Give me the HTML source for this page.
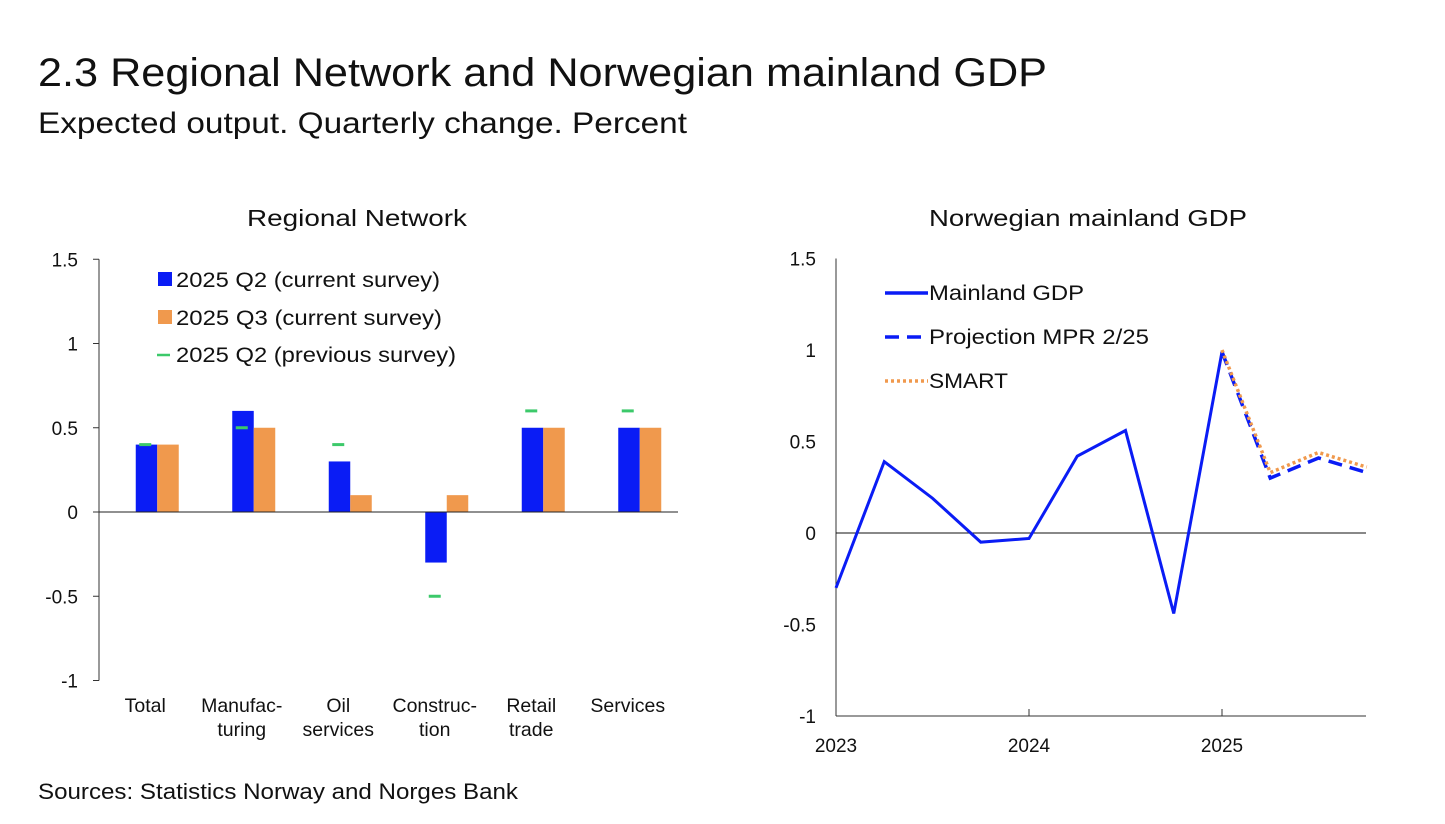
<!DOCTYPE html>
<html><head><meta charset="utf-8">
<style>
body{margin:0;background:#fff;font-family:"Liberation Sans",sans-serif;}
svg text{font-family:"Liberation Sans",sans-serif;fill:#111;}
</style></head>
<body>
<svg width="1445" height="819" xmlns="http://www.w3.org/2000/svg">
<text x="38" y="86" font-size="40" textLength="1009" lengthAdjust="spacingAndGlyphs">2.3 Regional Network and Norwegian mainland GDP</text>
<text x="38" y="133" font-size="30" fill="#222" textLength="649" lengthAdjust="spacingAndGlyphs">Expected output. Quarterly change. Percent</text>
<text x="247" y="226" font-size="23" textLength="220" lengthAdjust="spacingAndGlyphs">Regional Network</text>
<text x="929" y="226" font-size="23" textLength="318" lengthAdjust="spacingAndGlyphs">Norwegian mainland GDP</text>
<text x="38" y="799" font-size="22" textLength="480" lengthAdjust="spacingAndGlyphs">Sources: Statistics Norway and Norges Bank</text>
<g id="left"></g>
<g id="right"></g>
</svg>
<script>
const NS="http://www.w3.org/2000/svg";
function mk(p,t,a){const e=document.createElementNS(NS,t);for(const k in a)e.setAttribute(k,a[k]);p.appendChild(e);return e;}

// Left chart data
const categories=[["Total"],["Manufac-","turing"],["Oil","services"],["Construc-","tion"],["Retail","trade"],["Services"]];
const q2Current=[0.4,0.6,0.3,-0.3,0.5,0.5];
const q3Current=[0.4,0.5,0.1,0.1,0.5,0.5];
const q2Previous=[0.4,0.5,0.4,-0.5,0.6,0.6];
const leftTicks=[1.5,1,0.5,0,-0.5,-1];

const L=document.getElementById('left');
const lx0=99,lx1=678,ly=v=>512-v*168.5;
const band=96.5;
leftTicks.forEach(t=>{
  const tl=mk(L,'text',{x:78,y:ly(t)+7,'font-size':19,'text-anchor':'end'});tl.textContent=String(t);
  
  
  const tk=mk(L,'line',{x1:93,x2:99,y1:ly(t),y2:ly(t),stroke:'#333'});
  
  
});
const ax=mk(L,'line',{x1:lx0,x2:lx0,y1:ly(1.5),y2:ly(-1),stroke:'#333'});


categories.forEach((c,i)=>{
  const cx=lx0+band*(i+0.5)+10;
  const b1=mk(L,'rect',{x:cx-21.5,width:21.5,y:Math.min(ly(q2Current[i]),ly(0)),height:Math.abs(ly(q2Current[i])-ly(0)),fill:'#0a1cf5'});
  
  
  const b2=mk(L,'rect',{x:cx,width:21.5,y:Math.min(ly(q3Current[i]),ly(0)),height:Math.abs(ly(q3Current[i])-ly(0)),fill:'#f0994d'});
  
  
  const m=mk(L,'line',{x1:cx-18,x2:cx-6,y1:ly(q2Previous[i]),y2:ly(q2Previous[i]),stroke:'#3cc96a','stroke-width':3});
  
  
  c.forEach((s,j)=>{const t=mk(L,'text',{x:cx-12,y:712+j*24,'font-size':19.5,'text-anchor':'middle'});t.textContent=s;
    
    });
});
const zl=mk(L,'line',{x1:lx0,x2:lx1,y1:ly(0),y2:ly(0),stroke:'#222'});


[['#0a1cf5','2025 Q2 (current survey)',280,'box',264],['#f0994d','2025 Q3 (current survey)',318,'box',266],['#3cc96a','2025 Q2 (previous survey)',355,'dash',280]].forEach(l=>{
  let s;
  if(l[3]==='box'){s=mk(L,'rect',{x:158,y:l[2]-8,width:14,height:14,fill:l[0]});}
  else{s=mk(L,'line',{x1:157,x2:170,y1:l[2],y2:l[2],stroke:l[0],'stroke-width':2.5});}
  
  
  const t=mk(L,'text',{x:176,y:l[2]+7,'font-size':21,textLength:l[4],lengthAdjust:'spacingAndGlyphs'});t.textContent=l[1];
  
  
});

// Right chart data
const mainlandGdp=[-0.3,0.39,0.19,-0.05,-0.03,0.42,0.56,-0.44,0.99];
const projection=[0.99,0.3,0.41,0.33];
const smart=[1.0,0.33,0.44,0.36];
const rightTicks=[1.5,1,0.5,0,-0.5,-1];
const yearLabels=["2023","2024","2025"];

const R=document.getElementById('right');
const rx0=836,rx1=1366,qw=48.25,ry=v=>533-v*183,rx=q=>rx0+q*qw;
rightTicks.forEach(t=>{
  const tl=mk(R,'text',{x:816,y:ry(t)+7,'font-size':19,'text-anchor':'end'});tl.textContent=String(t);
  
  
});
const rax=mk(R,'line',{x1:rx0,x2:rx0,y1:ry(1.5),y2:ry(-1),stroke:'#333'});


const rxa=mk(R,'line',{x1:rx0,x2:rx1,y1:ry(-1),y2:ry(-1),stroke:'#333'});


const rz=mk(R,'line',{x1:rx0,x2:rx1,y1:ry(0),y2:ry(0),stroke:'#111'});


yearLabels.forEach((y,i)=>{
  const x=rx(i*4);
  const t=mk(R,'text',{x:x,y:752,'font-size':19,'text-anchor':'middle'});t.textContent=y;
  
  
  const tk=mk(R,'line',{x1:x,x2:x,y1:ry(-1),y2:ry(-1)-7,stroke:'#333'});
  
  
});
function pts(arr,off){return arr.map((v,i)=>rx(i+off)+','+ry(v)).join(' ');}
const gl=mk(R,'polyline',{points:pts(mainlandGdp,0),fill:'none',stroke:'#0a1cf5','stroke-width':3});


const pl=mk(R,'polyline',{points:pts(projection,8),fill:'none',stroke:'#0a1cf5','stroke-width':3.5,'stroke-dasharray':'14,8'});


const sl=mk(R,'polyline',{points:pts(smart,8),fill:'none',stroke:'#f0994d','stroke-width':3.5,'stroke-dasharray':'3,3'});


[['Mainland GDP',293,'',155],['Projection MPR 2/25',337,'14,8',220],['SMART',381,'3,3',79]].forEach((l,i)=>{
  const s=mk(R,'line',{x1:885,x2:928,y1:l[1],y2:l[1],stroke:i===2?'#f0994d':'#0a1cf5','stroke-width':3.5,'stroke-dasharray':l[2]});
  
  
  const t=mk(R,'text',{x:929,y:l[1]+7,'font-size':21,textLength:l[3],lengthAdjust:'spacingAndGlyphs'});t.textContent=l[0];
  
  
});
</script>
</body></html>
